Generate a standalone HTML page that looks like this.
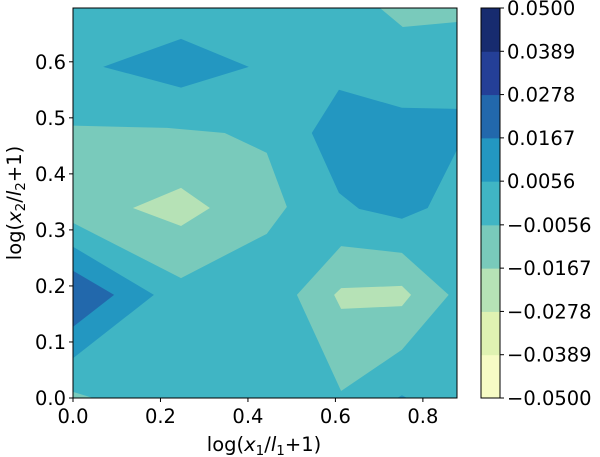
<!DOCTYPE html>
<html><head><meta charset="utf-8"><style>
body{margin:0;background:#fff;}
svg{display:block;font-family:"DejaVu Sans","Liberation Sans",sans-serif;}
</style></head><body>
<svg id="chart" width="600" height="457" viewBox="0 0 600 457" xmlns="http://www.w3.org/2000/svg"></svg>
<script>
const levels = [-0.05,-0.0389,-0.0278,-0.0167,-0.0056,0.0056,0.0167,0.0278,0.0389,0.05];
const levelLabels = ["\u22120.0500","\u22120.0389","\u22120.0278","\u22120.0167","\u22120.0056","0.0056","0.0167","0.0278","0.0389","0.0500"];
const bandColors = ["#f6fbc5","#dff2b2","#b6e2b6","#79cabb","#40b5c4","#2397c1","#2268ac","#243f97","#172b6f"];
const xTicks = [0.0,0.2,0.4,0.6,0.8];
const xTickLabels = ["0.0","0.2","0.4","0.6","0.8"];
const yTicks = [0.0,0.1,0.2,0.3,0.4,0.5,0.6];
const yTickLabels = ["0.0","0.1","0.2","0.3","0.4","0.5","0.6"];
const regionBands = [3,5,5,3,2,5,6,3,2,3,5];
const regionNames = ["top-right-region","top-left-diamond","right-blob","left-region","left-light-diamond","left-blue-wedge","left-dark-wedge","lower-right-region","lower-right-strip","corner-region","bottom-blue-tip"];
const regionPoints = [
 [[0.702,0.696],[0.754,0.662],[0.878,0.671],[0.878,0.696]],
 [[0.069,0.591],[0.247,0.641],[0.402,0.591],[0.247,0.554]],
 [[0.608,0.55],[0.752,0.518],[0.878,0.516],[0.878,0.443],[0.811,0.339],[0.752,0.32],[0.654,0.3375],[0.608,0.366],[0.546,0.473]],
 [[0,0.486],[0.215,0.482],[0.347,0.473],[0.443,0.4375],[0.489,0.341],[0.443,0.293],[0.247,0.214],[0,0.3125]],
 [[0.137,0.339],[0.247,0.375],[0.313,0.339],[0.247,0.307]],
 [[0,0.27],[0.185,0.184],[0,0.071]],
 [[0,0.227],[0.094,0.184],[0,0.127]],
 [[0.613,0.271],[0.752,0.259],[0.859,0.184],[0.752,0.086],[0.613,0.0125],[0.512,0.184]],
 [[0.597,0.184],[0.613,0.196],[0.752,0.2],[0.773,0.184],[0.752,0.164],[0.613,0.159]],
 [[0,0.011],[0.046,0],[0,0]],
 [[0.741,0],[0.752,0.005],[0.764,0]]
];
const X0=73,X1=457,Y0=398,Y1=8,XMAX=0.878,YMAX=0.696,FS=19.5;
const sx=v=>X0+v/XMAX*(X1-X0);
const sy=v=>Y0-v/YMAX*(Y0-Y1);
const svg=document.getElementById('chart');
const NS="http://www.w3.org/2000/svg";
function mk(t,a){const e=document.createElementNS(NS,t);for(const k in a)e.setAttribute(k,a[k]);svg.appendChild(e);return e;}
let bg=mk('rect',{x:X0,y:Y1,width:X1-X0,height:Y0-Y1,fill:bandColors[4]});


regionPoints.forEach((pts,i)=>{
 const p=mk('polygon',{points:pts.map(q=>sx(q[0])+','+sy(q[1])).join(' '),fill:bandColors[regionBands[i]]});
 
 
});
let fr=mk('rect',{x:X0,y:Y1,width:X1-X0,height:Y0-Y1,fill:'none',stroke:'#000','stroke-width':1});


xTicks.forEach((v,i)=>{
 mk('line',{x1:sx(v),x2:sx(v),y1:Y0,y2:Y0+4,stroke:'#000'});
 const t=mk('text',{x:sx(v),y:Y0+25,'text-anchor':'middle','font-size':FS});t.textContent=xTickLabels[i];
 
 
});
yTicks.forEach((v,i)=>{
 mk('line',{x1:X0-4,x2:X0,y1:sy(v),y2:sy(v),stroke:'#000'});
 const t=mk('text',{x:X0-7,y:sy(v)+7,'text-anchor':'end','font-size':FS});t.textContent=yTickLabels[i];
 
 
});
const CX0=481,CX1=500;
const cy=v=>Y0-(v-levels[0])/(levels[9]-levels[0])*(Y0-Y1);
for(let i=0;i<9;i++){
 const r=mk('rect',{x:CX0,y:cy(levels[i+1]),width:CX1-CX0,height:cy(levels[i])-cy(levels[i+1])+0.5,fill:bandColors[i]});
 
 
}
mk('rect',{x:CX0,y:Y1,width:CX1-CX0,height:Y0-Y1,fill:'none',stroke:'#000'});
levels.forEach((v,i)=>{
 mk('line',{x1:CX1,x2:CX1+4,y1:cy(v),y2:cy(v),stroke:'#000'});
 const t=mk('text',{x:CX1+7,y:cy(v)+7,'font-size':FS});t.textContent=levelLabels[i];
 
 
});
</script>
<svg style="position:absolute;left:0;top:0" width="600" height="457" xmlns="http://www.w3.org/2000/svg" font-family="DejaVu Sans, Liberation Sans, sans-serif">
<text x="264" y="451" text-anchor="middle" font-size="19.5">log(<tspan font-style="italic">x</tspan><tspan font-size="13.5" dy="4">1</tspan><tspan dy="-4">/</tspan><tspan font-style="italic">l</tspan><tspan font-size="13.5" dy="4">1</tspan><tspan dy="-4">+1)</tspan></text>
<text transform="translate(21,203) rotate(-90)" text-anchor="middle" font-size="19.5">log(<tspan font-style="italic">x</tspan><tspan font-size="13.5" dy="4">2</tspan><tspan dy="-4">/</tspan><tspan font-style="italic">l</tspan><tspan font-size="13.5" dy="4">2</tspan><tspan dy="-4">+1)</tspan></text>
</svg>
</body></html>
